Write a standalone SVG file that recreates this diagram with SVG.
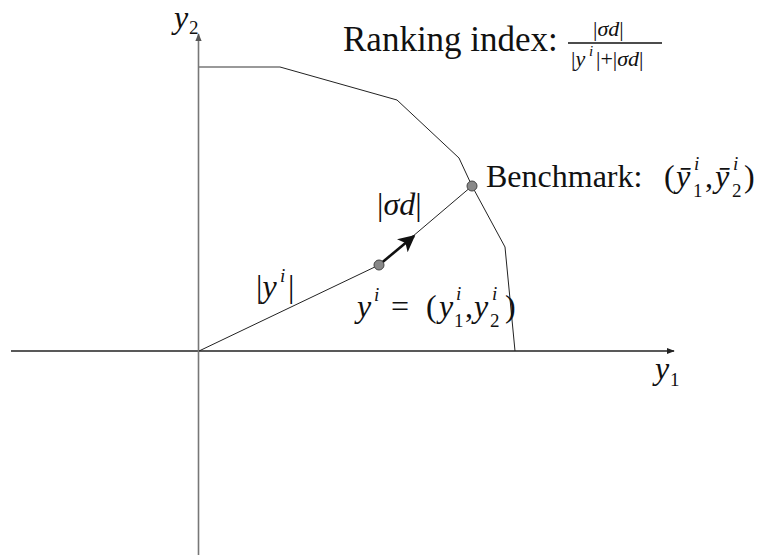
<svg xmlns="http://www.w3.org/2000/svg" width="761" height="560" viewBox="0 0 761 560">
<style>
text{font-family:'Liberation Serif','DejaVu Serif',serif;fill:#111}
.t{font-size:32px}
.big{font-size:35px}
.m{font-style:italic;font-size:32px}
.s{font-size:19px}
.si{font-style:italic;font-size:19px}
.f{font-size:22px}
.fi{font-style:italic}
.fs{font-style:italic;font-size:15px}
.ln{fill:none;stroke:#222;stroke-width:1}
.pt{fill:#888;stroke:#444;stroke-width:1}
</style>
<defs>
<marker id="ah" viewBox="0 0 10 10" refX="9" refY="5" markerWidth="8" markerHeight="8" markerUnits="userSpaceOnUse" orient="auto"><path d="M0,1 L10,5 L0,9 z" fill="#222"/></marker>
<marker id="ahg" viewBox="0 0 10 10" refX="9" refY="5" markerWidth="8" markerHeight="8" markerUnits="userSpaceOnUse" orient="auto"><path d="M0,1 L10,5 L0,9 z" fill="#555"/></marker>
<marker id="bigah" viewBox="0 0 10 10" refX="9" refY="5" markerWidth="17" markerHeight="17" markerUnits="userSpaceOnUse" orient="auto"><path d="M0,0 L10,5 L0,10 L2.5,5 z" fill="#111"/></marker>
</defs>
<g id="connectors">
<line id="x-axis" x1="11" y1="351" x2="674" y2="351" stroke="#222" stroke-width="1.4" marker-end="url(#ah)"/>
<line id="y-axis" x1="198.5" y1="555" x2="198.5" y2="34" stroke="#777" stroke-width="1.6" marker-end="url(#ahg)"/>
<line x1="199" y1="67" x2="280" y2="67" stroke="#777" stroke-width="1.4"/>
<polyline id="frontier" class="ln" points="280,67 397,100 459,158 472,186 505,247 515,351"/>
<polyline id="ray" class="ln" points="199,351 379,265 472,186"/>
<line id="direction" x1="379" y1="265" x2="414" y2="236" stroke="#111" stroke-width="2.6" marker-end="url(#bigah)"/>
</g>
<g id="point-yi"><circle class="pt" cx="379" cy="265" r="5"/></g>
<g id="point-benchmark"><circle class="pt" cx="472" cy="186" r="5"/></g>
<g id="label-y2">
<text class="m" x="174" y="28">y</text><text class="s" x="189" y="34">2</text>
</g>
<g id="label-y1">
<text class="m" x="655" y="379">y</text><text class="s" x="670" y="386">1</text>
</g>
<g id="ranking">
<text class="big" x="343" y="51">Ranking index:</text>
<text class="f" x="593" y="36">|<tspan class="fi">σd</tspan>|</text>
<line x1="568" y1="43" x2="662" y2="43" stroke="#111" stroke-width="1.3"/>
<text class="f" x="571" y="66">|<tspan class="fi">y</tspan></text>
<text class="fs" x="589" y="56">i</text>
<text class="f" x="596" y="66">|+|<tspan class="fi">σd</tspan>|</text>
</g>
<g id="benchmark">
<text class="t" x="486" y="187">Benchmark:</text>
<text class="t" x="664" y="187">(</text>
<text class="m" x="676" y="187">ȳ</text>
<text class="si" x="694" y="170">i</text>
<text class="s" x="693" y="197">1</text>
<text class="t" x="705" y="187">,</text>
<text class="m" x="715" y="187">ȳ</text>
<text class="si" x="733" y="170">i</text>
<text class="s" x="732" y="197">2</text>
<text class="t" x="744" y="187">)</text>
</g>
<g id="label-sigmad">
<text class="t" x="377" y="215">|<tspan class="m">σd</tspan>|</text>
</g>
<g id="label-yi-norm">
<text class="t" x="256" y="297">|<tspan class="m">y</tspan></text>
<text class="si" x="280" y="282">i</text>
<text class="t" x="288" y="297">|</text>
</g>
<g id="label-yi">
<text class="m" x="357" y="317">y</text>
<text class="si" x="374" y="301">i</text>
<text class="t" x="391" y="317">=</text>
<text class="t" x="426" y="317">(</text>
<text class="m" x="439" y="317">y</text>
<text class="si" x="456" y="300">i</text>
<text class="s" x="454" y="327">1</text>
<text class="t" x="465" y="317">,</text>
<text class="m" x="474" y="317">y</text>
<text class="si" x="492" y="300">i</text>
<text class="s" x="490" y="327">2</text>
<text class="t" x="505" y="317">)</text>
</g>
</svg>
